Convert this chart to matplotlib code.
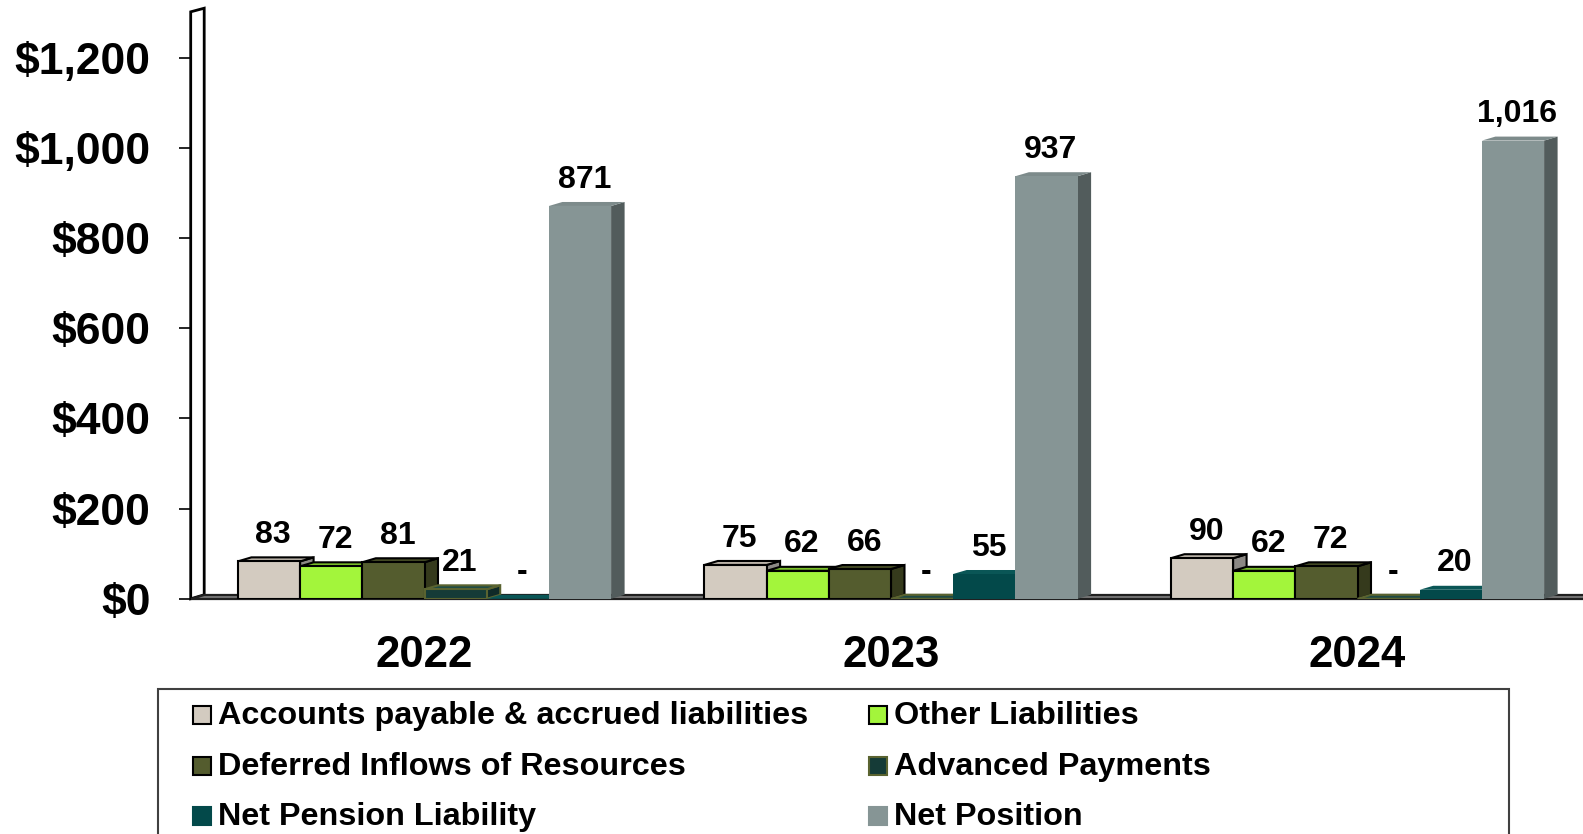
import matplotlib
matplotlib.use("Agg")
import matplotlib.pyplot as plt
from matplotlib.patches import Polygon, Rectangle

plt.rcParams['font.family'] = ['Liberation Sans', 'DejaVu Sans']
plt.rcParams['font.weight'] = 'bold'

# ---- data (in $ thousands) ----
years = ["2022", "2023", "2024"]
series_names = [
    "Accounts payable & accrued liabilities",
    "Other Liabilities",
    "Deferred Inflows of Resources",
    "Advanced Payments",
    "Net Pension Liability",
    "Net Position",
]
accounts_payable = [83, 75, 90]
other_liabilities = [72, 62, 62]
deferred_inflows = [81, 66, 72]
advanced_payments = [21, 0, 0]
net_pension = [0, 55, 20]
net_position = [871, 937, 1016]
yticks = [0, 200, 400, 600, 800, 1000, 1200]

series_values = [accounts_payable, other_liabilities, deferred_inflows,
                 advanced_payments, net_pension, net_position]

# face colours: front, top, side, edge
styles = [
    dict(front="#D3CBC0", top="#BDB5AA", side="#8B8884", edge="black"),
    dict(front="#A3F53B", top="#7CC22A", side="#6A9E25", edge="black"),
    dict(front="#545C2E", top="#454C25", side="#353A1C", edge="black"),
    dict(front="#153B37", top="#1D4A45", side="#0F2A28", edge="#5A6330"),
    dict(front="#03494A", top="#0A5656", side="#023434", edge="none"),
    dict(front="#869595", top="#7D8B8B", side="#525C5C", edge="none"),
]

W_PX, H_PX = 1583, 834
fig = plt.figure(figsize=(W_PX / 100, H_PX / 100), dpi=100)

# axes geometry in pixels
px_per_unit = 62.2          # one bar width
px_per_val = 0.451          # vertical scale
group_center_px = 424.5     # centre of first group
axis_left_px = 190.7
zero_px = 598.8
top_px = 8.0

xl = (axis_left_px - group_center_px) / px_per_unit
xr = (W_PX - group_center_px) / px_per_unit
ytop = (zero_px - top_px) / px_per_val

ax = fig.add_axes([axis_left_px / W_PX, (H_PX - zero_px) / H_PX,
                   (W_PX - axis_left_px) / W_PX, (zero_px - top_px) / H_PX])
ax.set_xlim(xl, xr)
ax.set_ylim(0, ytop)
for s in ax.spines.values():
    s.set_visible(False)

# depth of the 3-D effect in data units
dx = 13.5 / px_per_unit
dy = 4.0 / px_per_val

# wall and floor
wall = Polygon([(xl, 0), (xl, 1301.5), (xl + dx, 1309.5), (xl + dx, dy)],
               closed=True, facecolor="white", edgecolor="black", lw=2.0,
               zorder=1, clip_on=False)
ax.add_patch(wall)
floor = Polygon([(xl, 0), (xr + 1, 0), (xr + 1, dy), (xl + dx, dy)],
                closed=True, facecolor="#7A7A7A", edgecolor="#202020", lw=1.6,
                zorder=1, clip_on=False)
ax.add_patch(floor)

group_spacing = 7.5
n_series = len(series_values)
label_shift = 2.5 / px_per_unit
z = 2
for g, year in enumerate(years):
    gc = g * group_spacing
    for i, (vals, st) in enumerate(zip(series_values, styles)):
        v = vals[g]
        x0 = gc + (i - n_series / 2)
        lw = 0 if st["edge"] == "none" else 1.5
        ec = st["edge"] if st["edge"] != "none" else st["front"]
        side = Polygon([(x0 + 1, 0), (x0 + 1 + dx, dy), (x0 + 1 + dx, v + dy), (x0 + 1, v)],
                       closed=True, facecolor=st["side"], edgecolor=ec, lw=lw,
                       zorder=z, joinstyle="miter")
        ax.add_patch(side)
        top = Polygon([(x0, v), (x0 + 1, v), (x0 + 1 + dx, v + dy), (x0 + dx, v + dy)],
                      closed=True, facecolor=st["top"], edgecolor=ec, lw=lw,
                      zorder=z, joinstyle="miter")
        ax.add_patch(top)
        ax.bar(x0, v, width=1.0, align="edge", color=st["front"],
               edgecolor=ec, linewidth=lw, zorder=z + 0.5)
        z += 1
        label = "-" if v == 0 else f"{v:,}"
        ax.annotate(label, xy=(x0 + 0.5 + dx / 2 - label_shift, v + dy), xytext=(0, 10.4),
                    textcoords="offset points", ha="center", va="baseline",
                    fontsize=23, fontweight="bold", zorder=100)
    # year label under the group
    ax.text(gc, -(666.7 - zero_px) / px_per_val, year, ha="center", va="baseline",
            fontsize=31.5, fontweight="bold", clip_on=False)

ax.set_xticks([])
ax.set_yticks(yticks)
ax.set_yticklabels([f"${t:,}" for t in yticks], fontsize=32, fontweight="bold")
ax.tick_params(axis="y", length=8.8, width=1.2, color="black", pad=20)

# legend box drawn in figure pixels
def fx(px):
    return px / W_PX

def fy(py):
    return 1 - py / H_PX

fig.patches.append(Rectangle((fx(158.3), fy(850)), fx(1508.5) - fx(158.3), fy(689) - fy(850),
                             transform=fig.transFigure, facecolor="white",
                             edgecolor="#404040", lw=1.5, zorder=0))

col_sq = [193.3, 869.0]
col_txt = [218.3, 893.5]
row_base = [724.3, 774.8, 825.3]
sq = 18.0
order = [(0, 0), (0, 1), (1, 0), (1, 1), (2, 0), (2, 1)]
for (r, c), name, st in zip(order, series_names, styles):
    ec = st["edge"] if st["edge"] != "none" else st["front"]
    fig.patches.append(Rectangle((fx(col_sq[c]), fy(row_base[r])), fx(col_sq[c] + sq) - fx(col_sq[c]),
                                 fy(row_base[r] - sq) - fy(row_base[r]),
                                 transform=fig.transFigure, facecolor=st["front"],
                                 edgecolor=ec, lw=1.5, zorder=1))
    fig.text(fx(col_txt[c]), fy(row_base[r]), name, ha="left", va="baseline",
             fontsize=23.3, fontweight="bold")

fig.savefig("out.png", dpi=100)
